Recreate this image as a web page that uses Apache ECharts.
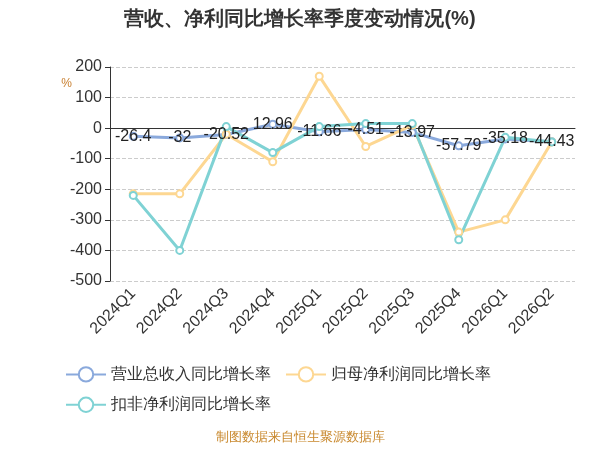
<!DOCTYPE html>
<html><head><meta charset="utf-8">
<script src="https://cdn.jsdelivr.net/npm/echarts@6/dist/echarts.min.js"></script>
<style>html,body{margin:0;padding:0}#c{width:600px;height:450px}</style>
</head><body><div id="c"></div>
<script>
const categories = ['2024Q1','2024Q2','2024Q3','2024Q4','2025Q1','2025Q2','2025Q3','2025Q4','2026Q1','2026Q2'];
const revenue = [-26.4, -32, -20.52, 12.96, -11.66, -4.51, -13.97, -57.79, -35.18, -44.43];
const netProfit = [-215, -215, -20, -110, 170, -60, 10, -340, -300, -45];
const deducted = [-220, -400, 5, -80, 5, 15, 15, -365, -30, -45];

const chart = echarts.init(document.getElementById('c'));
const mk = (name, data, color, label) => ({
  name, type: 'line', data, symbol: 'emptyCircle', symbolSize: 7,
  lineStyle: { width: 3, color }, itemStyle: { color },
  label: { show: label, position: 'inside', color: '#222', fontSize: 16 }
});
chart.setOption({
  title: { text: '营收、净利同比增长率季度变动情况(%)', left: 'center', top: 4,
    textStyle: { fontSize: 20, fontWeight: 'bold', color: '#333' } },
  grid: { left: 110, right: 25, top: 67, bottom: 169 },
  legend: { bottom: 32, left: 60, width: 520, itemWidth: 40, itemHeight: 18, itemGap: 14,
    textStyle: { fontSize: 16, color: '#333' } },
  xAxis: { type: 'category', data: categories,
    axisLine: { lineStyle: { color: '#333' } }, axisTick: { show: false },
    axisLabel: { rotate: 45, fontSize: 16, color: '#333', margin: 10 } },
  yAxis: { type: 'value', name: '%', nameLocation: 'end', nameGap: 10,
    nameTextStyle: { color: '#c87f2f', fontSize: 12, align: 'right', padding: [0, 38, -40, 0] },
    min: -500, max: 200, interval: 100,
    axisLine: { show: true, lineStyle: { color: '#333' } }, axisTick: { show: true },
    axisLabel: { fontSize: 16, color: '#333' },
    splitLine: { lineStyle: { type: 'dashed', color: '#ccc' } } },
  series: [
    mk('营业总收入同比增长率', revenue, '#8aa9dc', true),
    mk('归母净利润同比增长率', netProfit, '#fdd792', false),
    mk('扣非净利润同比增长率', deducted, '#7fd2d4', false)
  ],
  graphic: [{ type: 'text', left: 'center', bottom: 6,
    style: { text: '制图数据来自恒生聚源数据库', fill: '#c9892e', fontSize: 13 } }]
});
</script></body></html>
